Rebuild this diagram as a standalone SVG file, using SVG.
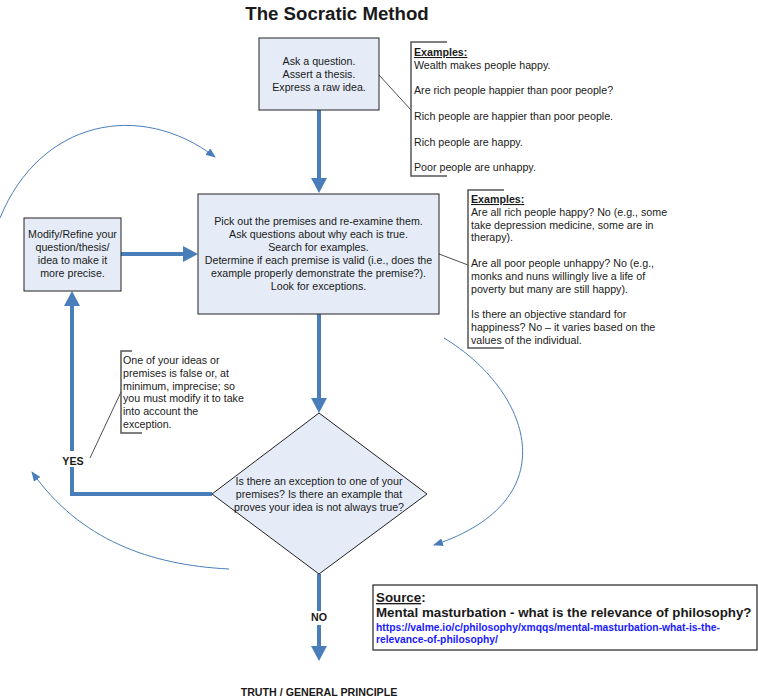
<svg xmlns="http://www.w3.org/2000/svg" width="758" height="699" viewBox="0 0 758 699">
<style>
text{font-family:"Liberation Sans",Arial,sans-serif;font-size:10.67px;fill:#1a1a1a}
.c{text-anchor:middle}
.b{font-weight:bold}
.u{text-decoration:underline}
.box{fill:#e5ecf7;stroke:#222;stroke-width:1}
.thick{fill:none;stroke:#4a7ebb;stroke-width:4}
.thin{fill:none;stroke:#4a7ebb;stroke-width:1}
.brk{fill:none;stroke:#555;stroke-width:1.5}
.lead{fill:none;stroke:#222;stroke-width:0.8}
.link{fill:#1a1aff;font-weight:bold;font-size:10.3px}
</style>
<defs>
<marker id="big" markerUnits="userSpaceOnUse" markerWidth="16" markerHeight="16" refX="0" refY="8" orient="auto">
<path d="M0,0 L15,8 L0,16 z" fill="#4a7ebb"/>
</marker>
<marker id="small" markerUnits="userSpaceOnUse" markerWidth="10" markerHeight="8" refX="9" refY="4" orient="auto">
<path d="M0,0 L10,4 L0,8 z" fill="#4a7ebb"/>
</marker>
</defs>
<rect width="758" height="699" fill="#fff"/>
<text x="337" y="20" class="c b" style="font-size:18.67px">The Socratic Method</text>

<g id="connectors">
<path class="thick" d="M319,110 V178" marker-end="url(#big)"/>
<path class="thick" d="M319,314 V398" marker-end="url(#big)"/>
<path class="thick" d="M212,494 H72 V306" marker-end="url(#big)"/>
<path class="thick" d="M121,254 H183" marker-end="url(#big)"/>
<path class="thick" d="M319,574 V646" marker-end="url(#big)"/>
<path class="thin" d="M0,218 C40,120 140,100 215,157" marker-end="url(#small)"/>
<path class="thin" d="M444,338 C530,390 570,500 434,545" marker-end="url(#small)"/>
<path class="thin" d="M229,569 C150,565 80,540 32,472" marker-end="url(#small)"/>
<path class="lead" d="M379,75 L411,110"/>
<path class="lead" d="M439,254 L468,265"/>
<path class="lead" d="M90,458 L121,392"/>
</g>

<g id="start">
<rect class="box" x="259" y="38" width="120" height="72"/>
<text x="319" y="65" class="c">Ask a question.</text>
<text x="319" y="78" class="c">Assert a thesis.</text>
<text x="319" y="91" class="c">Express a raw idea.</text>
</g>

<g id="examples1">
<path class="brk" d="M447,42 H411 V176 H447"/>
<text x="414" y="56" class="b u">Examples:</text>
<text x="414" y="68.8">Wealth makes people happy.</text>
<text x="414" y="94.4">Are rich people happier than poor people?</text>
<text x="414" y="120">Rich people are happier than poor people.</text>
<text x="414" y="145.6">Rich people are happy.</text>
<text x="414" y="171.2">Poor people are unhappy.</text>
</g>

<g id="examine">
<rect class="box" x="198" y="194" width="241" height="120"/>
<text x="318.5" y="225" class="c">Pick out the premises and re-examine them.</text>
<text x="318.5" y="238" class="c">Ask questions about why each is true.</text>
<text x="318.5" y="251" class="c">Search for examples.</text>
<text x="318.5" y="264" class="c">Determine if each premise is valid (i.e., does the</text>
<text x="318.5" y="277" class="c">example properly demonstrate the premise?).</text>
<text x="318.5" y="290" class="c">Look for exceptions.</text>
</g>

<g id="examples2">
<path class="brk" d="M504,190 H468 V348 H504"/>
<text x="471" y="203" class="b u">Examples:</text>
<text x="471" y="215.8">Are all rich people happy? No (e.g., some</text>
<text x="471" y="228.6">take depression medicine, some are in</text>
<text x="471" y="241.4">therapy).</text>
<text x="471" y="267">Are all poor people unhappy? No (e.g.,</text>
<text x="471" y="279.8">monks and nuns willingly live a life of</text>
<text x="471" y="292.6">poverty but many are still happy).</text>
<text x="471" y="318.2">Is there an objective standard for</text>
<text x="471" y="331">happiness? No – it varies based on the</text>
<text x="471" y="343.8">values of the individual.</text>
</g>

<g id="modify">
<rect class="box" x="24" y="218" width="97" height="73"/>
<text x="72.5" y="238" class="c">Modify/Refine your</text>
<text x="72.5" y="251" class="c">question/thesis/</text>
<text x="72.5" y="264" class="c">idea to make it</text>
<text x="72.5" y="277" class="c">more precise.</text>
</g>

<g id="note-yes">
<path class="brk" d="M132,351 H121 V433 H142"/>
<text x="123" y="364">One of your ideas or</text>
<text x="123" y="376.8">premises is false or, at</text>
<text x="123" y="389.6">minimum, imprecise; so</text>
<text x="123" y="402.4">you must modify it to take</text>
<text x="123" y="415.2">into account the</text>
<text x="123" y="428">exception.</text>
</g>

<g id="decision">
<polygon class="box" points="319,413 427,494 319,574 212,494"/>
<text x="319" y="485" class="c">Is there an exception to one of your</text>
<text x="319" y="498" class="c">premises? Is there an example that</text>
<text x="319" y="511" class="c">proves your idea is not always true?</text>
</g>

<g id="label-yes">
<rect x="60" y="451" width="26" height="16" fill="#fff"/>
<text x="73" y="465" class="c b">YES</text>
</g>

<g id="label-no">
<rect x="309" y="611" width="20" height="14" fill="#fff"/>
<text x="319" y="621" class="c b">NO</text>
</g>

<g id="truth">
<text x="319" y="696" class="c b">TRUTH / GENERAL PRINCIPLE</text>
</g>

<g id="source">
<rect x="373" y="585" width="384" height="65" fill="#fff" stroke="#222" stroke-width="1.2"/>
<text x="376" y="602" class="b" style="font-size:13.33px"><tspan class="u">Source</tspan>:</text>
<text x="376" y="617" class="b" style="font-size:13.33px">Mental masturbation - what is the relevance of philosophy?</text>
<text x="376" y="631" class="link">https://valme.io/c/philosophy/xmqqs/mental-masturbation-what-is-the-</text>
<text x="376" y="643" class="link">relevance-of-philosophy/</text>
</g>
</svg>
